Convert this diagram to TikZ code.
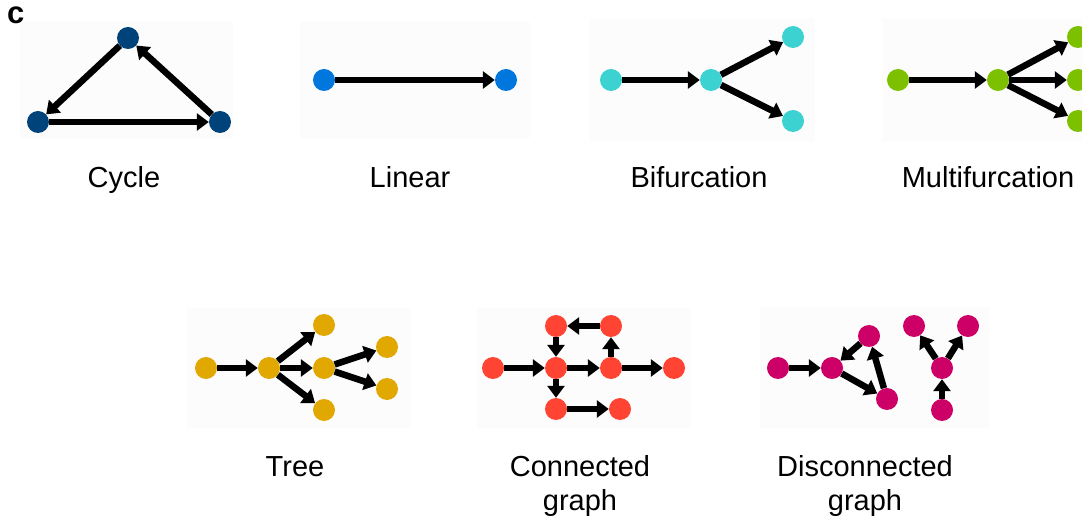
\documentclass[tikz,border=0pt]{standalone}
\usepackage{fontspec}
\setmainfont{Liberation Sans}
\usetikzlibrary{arrows.meta}
\definecolor{cyc}{HTML}{00427A}
\definecolor{lin}{HTML}{0077DD}
\definecolor{bif}{HTML}{3CD2D2}
\definecolor{mul}{HTML}{7DC000}
\definecolor{tre}{HTML}{E0A800}
\definecolor{con}{HTML}{FF4433}
\definecolor{dis}{HTML}{CC0066}
\definecolor{panel}{HTML}{FCFCFC}
\tikzset{
  vtx/.style={circle,inner sep=0pt,minimum size=22pt,fill=#1},
  arr/.style={line width=6.5pt,-{Triangle[length=12pt,width=17pt]},black},
  lbl/.style={anchor=base,font=\fontsize{29}{34}\selectfont,align=center},
  pnl/.style={fill=panel,draw=none}
}
\begin{document}
\begin{tikzpicture}[x=1pt,y=-1pt]
\useasboundingbox[fill=white] (0,0) rectangle (1082,518);
% panels
\fill[pnl] (20,22) rectangle (233,138);
\fill[pnl] (300,22) rectangle (530,138);
\fill[pnl] (590,18) rectangle (815,142);
\fill[pnl] (882,18) rectangle (1082,142);
\fill[pnl] (187,308) rectangle (410,428);
\fill[pnl] (477,308) rectangle (690,428);
\fill[pnl] (760,307) rectangle (990,428);
\node[anchor=base west,font=\fontsize{31}{34}\selectfont\bfseries,inner sep=0pt] (tag) at (7,24) {c};
% Cycle
\node[vtx=cyc] (c1) at (128,38) {};
\node[vtx=cyc] (c2) at (38,122) {};
\node[vtx=cyc] (c3) at (220,122) {};
\draw[arr] (c1) -- (c2);
\draw[arr] (c2) -- (c3);
\draw[arr] (c3) -- (c1);
\node[lbl] (lc) at (124,188) {Cycle};
% Linear
\node[vtx=lin] (l1) at (324,80) {};
\node[vtx=lin] (l2) at (506,80) {};
\draw[arr] (l1) -- (l2);
\node[lbl] (ll) at (410,188) {Linear};
% Bifurcation
\node[vtx=bif] (b1) at (611,80) {};
\node[vtx=bif] (b2) at (711,80) {};
\node[vtx=bif] (b3) at (793,37) {};
\node[vtx=bif] (b4) at (793,121) {};
\draw[arr] (b1) -- (b2);
\draw[arr] (b2) -- (b3);
\draw[arr] (b2) -- (b4);
\node[lbl] (lb) at (699,188) {Bifurcation};
% Multifurcation
\node[vtx=mul] (m1) at (898,80) {};
\node[vtx=mul] (m2) at (998,80) {};
\node[vtx=mul] (m3) at (1078,37) {};
\node[vtx=mul] (m4) at (1078,80) {};
\node[vtx=mul] (m5) at (1078,121) {};
\draw[arr] (m1) -- (m2);
\draw[arr] (m2) -- (m3);
\draw[arr] (m2) -- (m4);
\draw[arr] (m2) -- (m5);
\node[lbl] (lm) at (988,188) {Multifurcation};
% Tree
\node[vtx=tre] (t1) at (206,368) {};
\node[vtx=tre] (t2) at (269,368) {};
\node[vtx=tre] (t3) at (324,325) {};
\node[vtx=tre] (t4) at (324,368) {};
\node[vtx=tre] (t5) at (324,410) {};
\node[vtx=tre] (t6) at (387,347) {};
\node[vtx=tre] (t7) at (387,389) {};
\draw[arr] (t1) -- (t2);
\draw[arr] (t2) -- (t3);
\draw[arr] (t2) -- (t4);
\draw[arr] (t2) -- (t5);
\draw[arr] (t4) -- (t6);
\draw[arr] (t4) -- (t7);
\node[lbl] (lt) at (295,476) {Tree};
% Connected graph
\node[vtx=con] (k1) at (493,368) {};
\node[vtx=con] (k2) at (556,368) {};
\node[vtx=con] (k3) at (556,326) {};
\node[vtx=con] (k4) at (611,326) {};
\node[vtx=con] (k5) at (611,368) {};
\node[vtx=con] (k6) at (674,368) {};
\node[vtx=con] (k7) at (556,409) {};
\node[vtx=con] (k8) at (620,409) {};
\draw[arr] (k1) -- (k2);
\draw[arr] (k4) -- (k3);
\draw[arr] (k3) -- (k2);
\draw[arr] (k2) -- (k5);
\draw[arr] (k5) -- (k4);
\draw[arr] (k5) -- (k6);
\draw[arr] (k2) -- (k7);
\draw[arr] (k7) -- (k8);
\node[lbl] (lk) at (580,510) {Connected\\graph};
% Disconnected graph
\node[vtx=dis] (d1) at (778,368) {};
\node[vtx=dis] (d2) at (832,368) {};
\node[vtx=dis] (d3) at (869,336) {};
\node[vtx=dis] (d4) at (887,399) {};
\node[vtx=dis] (d5) at (914,326) {};
\node[vtx=dis] (d6) at (968,326) {};
\node[vtx=dis] (d7) at (942,368) {};
\node[vtx=dis] (d8) at (942,410) {};
\draw[arr] (d1) -- (d2);
\draw[arr] (d3) -- (d2);
\draw[arr] (d2) -- (d4);
\draw[arr] (d4) -- (d3);
\draw[arr] (d8) -- (d7);
\draw[arr] (d7) -- (d5);
\draw[arr] (d7) -- (d6);
\node[lbl] (ld) at (865,510) {Disconnected\\graph};
\end{tikzpicture}
\end{document}
